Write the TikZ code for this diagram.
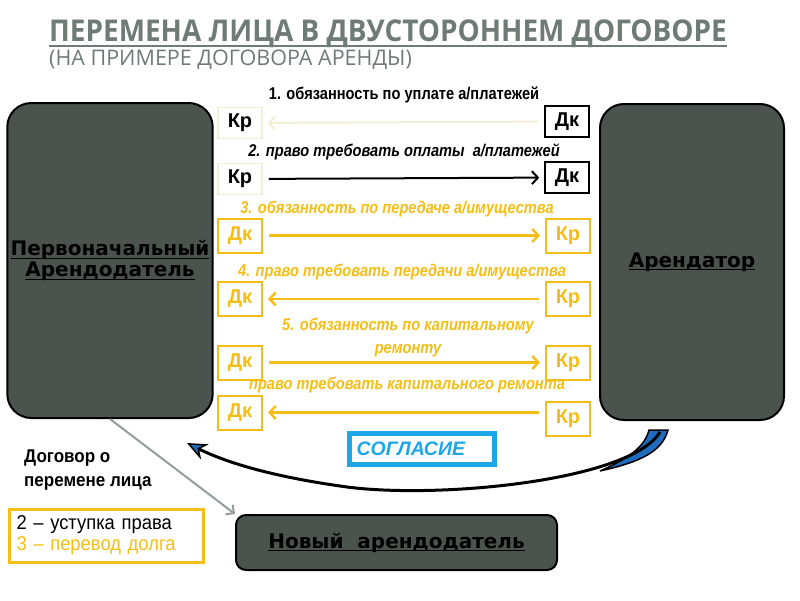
\documentclass[tikz,border=0pt]{standalone}
\usepackage{fontspec}
\setmainfont{Liberation Sans}
\newfontfamily\narrowfont[FakeStretch=0.86]{Liberation Sans}
\newfontfamily\plainnarrow[FakeStretch=0.92]{Liberation Sans}
\newfontfamily\titlefont[FakeStretch=0.93]{Open Sans}
\newfontfamily\subtitlefont{Open Sans}
\newfontfamily\partyfont{DejaVu Sans}
\usetikzlibrary{arrows.meta, positioning}
\definecolor{titlegray}{HTML}{6F7B75}
\definecolor{partyfill}{HTML}{4B534F}
\definecolor{dutyyellow}{HTML}{F5BE16}
\definecolor{paleline}{HTML}{F3EED8}
\definecolor{consentblue}{HTML}{1CA6E6}
\definecolor{curveblue}{HTML}{1F6CBF}
\definecolor{linkgray}{HTML}{939E9A}
% underline with a rule of own depth and thickness
\newcommand{\ulrule}[3]{\setbox0\hbox{#3}\rlap{\vrule height -#1 depth \dimexpr#1+#2\relax width \wd0}\box0}

\begin{document}
\begin{tikzpicture}[x=1pt, y=-1pt,
  party/.style={draw, line width=2pt, fill=partyfill, rounded corners=24pt, align=center,
    font=\partyfont\bfseries\fontsize{20}{21}\selectfont},
  role/.style={draw, line width=1.5pt, minimum width=44pt, minimum height=31pt, inner sep=0pt,
    font=\bfseries\fontsize{20}{20}\selectfont},
  rolek/.style={role, draw=black},
  rolef/.style={role, draw=paleline},
  roley/.style={role, draw=dutyyellow, text=dutyyellow, line width=2pt, minimum height=34pt},
  lbl/.style={font=\narrowfont\bfseries\itshape\fontsize{17}{23}\selectfont, align=center},
  tip/.style={-{Straight Barb[length=6pt, width=13pt]}, shorten >=5pt, shorten <=6pt},
  palearrow/.style={tip, draw=paleline, line width=2pt},
  blackarrow/.style={tip, draw=black, line width=2pt},
  yarrow/.style={tip, draw=dutyyellow, line width=2.5pt}
]
\useasboundingbox (0,0) rectangle (800,600);

% heading
\node[anchor=base west, inner sep=0pt, text=titlegray,
  font=\titlefont\bfseries\fontsize{30}{32}\selectfont] (title) at (49,41)
  {\ulrule{3.5pt}{2.5pt}{ПЕРЕМЕНА ЛИЦА В ДВУСТОРОННЕМ ДОГОВОРЕ}};
\node[anchor=base west, inner sep=0pt, text=titlegray,
  font=\subtitlefont\fontsize{21.5}{24}\selectfont] (subtitle) at (49,65)
  {(НА ПРИМЕРЕ ДОГОВОРА АРЕНДЫ)};

% parties
\node[party, minimum width=190pt, minimum height=315pt] (orig) at (110,260.5)
  {\ulrule{2pt}{1.2pt}{Первоначальный}\\\ulrule{2pt}{1.2pt}{Арендодатель}};
\node[party, minimum width=184pt, minimum height=316pt] (tenant) at (692,262)
  {\ulrule{2pt}{1.2pt}{Арендатор}};
\node[party, rounded corners=10pt, minimum width=321pt, minimum height=55pt] (newlord) at (396.5,542.5)
  {\ulrule{2pt}{1.2pt}{Новый\ \ арендодатель}};

% creditor / debtor pairs
\node[rolef] (kr1) at (240,123) {Кр};
\node[rolek] (dk1) at (567,121.5) {Дк};
\node[rolef] (kr2) at (240,179) {Кр};
\node[rolek] (dk2) at (567,177.5) {Дк};
\node[roley] (dk3) at (240,235.5) {Дк};
\node[roley] (kr3) at (568,235.5) {Кр};
\node[roley] (dk4) at (240,299) {Дк};
\node[roley] (kr4) at (568,299) {Кр};
\node[roley] (dk5) at (240,362.5) {Дк};
\node[roley] (kr5) at (568,362.5) {Кр};
\node[roley] (dk6) at (240,412.5) {Дк};
\node[roley] (kr6) at (568,419) {Кр};

\node[lbl, font=\narrowfont\bfseries\fontsize{17}{20}\selectfont] (lbl1) at (404,95) {1. обязанность по уплате а/платежей};
\node[lbl] (lbl2) at (404,152) {2. право требовать оплаты\ \ а/платежей};
\node[lbl, text=dutyyellow] (lbl3) at (397,209) {3. обязанность по передаче а/имущества};
\node[lbl, text=dutyyellow] (lbl4) at (402,272) {4. право требовать передачи а/имущества};
\node[lbl, text=dutyyellow] (lbl5) at (408,338) {5. обязанность по капитальному\\ремонту};
\node[lbl, text=dutyyellow] (lbl6) at (407,385) {право требовать капитального ремонта};

\draw[palearrow] (dk1) -- (kr1);
\draw[blackarrow] (kr2) -- (dk2);
\draw[yarrow] (dk3) -- (kr3);
\draw[yarrow] (kr4) -- (dk4);
\draw[yarrow] (dk5) -- (kr5);
\draw[yarrow] (kr6.west |- dk6) -- (dk6);

% consent
\node[draw=consentblue, line width=5pt, text width=131pt, inner xsep=7pt, minimum height=31pt,
  align=left, text=consentblue, font=\bfseries\itshape\fontsize{19.5}{19.5}\selectfont] (consent) at (422,449) {СОГЛАСИЕ};

\coordinate (cstart) at (660,432);
\coordinate (cend) at (187,443);
\fill[curveblue, draw=black, line width=1.5pt] (649,430) -- (668,430) .. controls (662,452) and (640,462) .. (600,471)
  .. controls (630,458) and (645,446) .. cycle;
\draw[black, line width=3pt, -{Stealth[length=20pt, width=17pt, fill=curveblue, line width=1.5pt]}]
  (cstart) .. controls (630,482) and (430,500) .. (340,486) .. controls (270,476) and (225,462) .. (cend);

% agreement on change of party
\node[anchor=west, align=left, inner sep=0pt, font=\plainnarrow\bfseries\fontsize{18.5}{24}\selectfont] (deal) at (24,470)
  {Договор о\\перемене лица};
\draw[draw=linkgray, line width=2pt, -{Straight Barb[length=6pt, width=12pt]}] (orig.south) -- (newlord.north west);

\node[draw=dutyyellow, line width=3pt, text width=180pt, inner xsep=7pt, minimum height=53pt, align=left,
  font=\plainnarrow\fontsize{20}{21}\selectfont] (kinds) at (106.5,535.5)
  {2 – уступка права\\\textcolor{dutyyellow}{3 – перевод долга}};
\end{tikzpicture}
\end{document}
